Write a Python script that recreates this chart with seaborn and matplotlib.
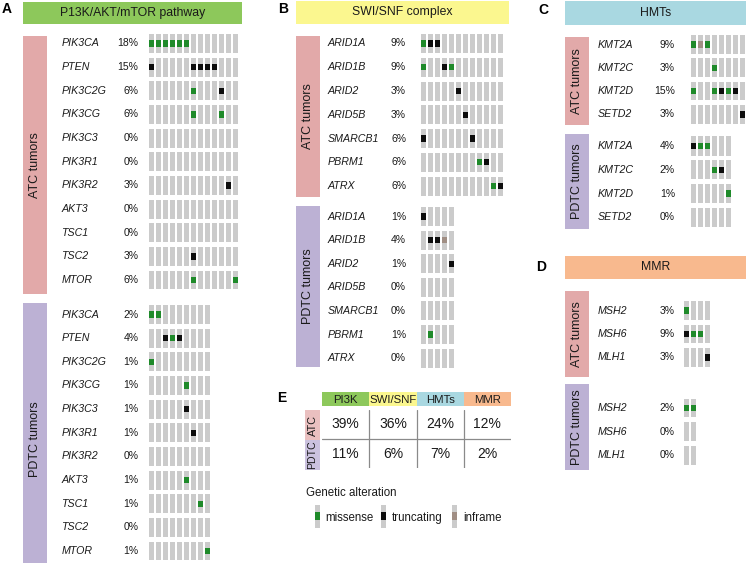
import matplotlib
matplotlib.use("Agg")
import matplotlib.pyplot as plt
import matplotlib.transforms as mtransforms
from matplotlib.colors import ListedColormap
import numpy as np
import pandas as pd
import seaborn as sns

# ---- data ----
# alteration codes: M = missense, T = truncating, I = inframe, . = none
pi3k_genes = ["PIK3CA", "PTEN", "PIK3C2G", "PIK3CG", "PIK3C3", "PIK3R1",
              "PIK3R2", "AKT3", "TSC1", "TSC2", "MTOR"]
pi3k_atc_pct = [18, 15, 6, 6, 0, 0, 3, 0, 0, 3, 6]
pi3k_pdtc_pct = [2, 4, 1, 1, 1, 1, 0, 1, 1, 0, 1]
pi3k_atc_alt = ["MMMMMM.......", "T.....TTTT...", "......M...T..", "......M...M..",
                ".............", ".............", "...........T.", ".............",
                ".............", "......T......", "......M.....M"]
pi3k_pdtc_alt = ["MM.......", "..TMT....", "M........", ".....M...", ".....T...",
                 "......T..", ".........", ".....M...", ".......M.", ".........",
                 "........M"]

swi_genes = ["ARID1A", "ARID1B", "ARID2", "ARID5B", "SMARCB1", "PBRM1", "ATRX"]
swi_atc_pct = [9, 9, 3, 3, 6, 6, 6]
swi_pdtc_pct = [1, 4, 1, 0, 0, 1, 0]
swi_atc_alt = ["MTT.........", "M..TM.......", ".....T......", "......T.....",
               "T......T....", "........MT..", "..........MT"]
swi_pdtc_alt = ["T....", ".TTI.", "....T", ".....", ".....", ".M...", "....."]

hmt_genes = ["KMT2A", "KMT2C", "KMT2D", "SETD2"]
hmt_atc_pct = [9, 3, 15, 3]
hmt_pdtc_pct = [4, 2, 1, 0]
hmt_atc_alt = ["MIM.....", "...M....", "M..MTMT.", ".......T"]
hmt_pdtc_alt = ["TMM...", "...MT.", ".....M", "......"]

mmr_genes = ["MSH2", "MSH6", "MLH1"]
mmr_atc_pct = [3, 9, 3]
mmr_pdtc_pct = [2, 0, 0]
mmr_atc_alt = ["M...", "TMM.", "...T"]
mmr_pdtc_alt = ["MM", "..", ".."]

e_groups = ["PI3K", "SWI/SNF", "HMTs", "MMR"]
e_rows = ["ATC", "PDTC"]
e_atc = [39, 36, 24, 12]
e_pdtc = [11, 6, 7, 2]

legend_kinds = ["M", "T", "I"]
legend_labels = ["missense", "truncating", "inframe"]

# ---- style ----
sns.set_theme(style="white")
plt.rcParams["font.family"] = ["Liberation Sans", "DejaVu Sans"]

TXT = "#1a1a1a"
GREY = "#cbcbcb"
ALT_COLORS = {"M": "#1f8a2a", "T": "#0d0d0d", "I": "#a08e84"}
GREEN_H = "#8dc85b"
YELLOW_H = "#fbf78f"
BLUE_H = "#a9d8e1"
ORANGE_H = "#f8b98e"
PINK = "#e2a9a9"
PURPLE = "#bcb1d4"

W, H = 746, 563
fig = plt.figure(figsize=(W / 100, H / 100), dpi=100)
fig.patch.set_facecolor("white")


def px_axes(x0, y0, x1, y1, color="none"):
    ax = fig.add_axes([x0 / W, 1 - y1 / H, (x1 - x0) / W, (y1 - y0) / H])
    ax.set_facecolor(color)
    ax.set_xticks([])
    ax.set_yticks([])
    for s in ax.spines.values():
        s.set_visible(False)
    return ax


def label_box(x0, y0, x1, y1, color, text, size, rotation=0):
    ax = px_axes(x0, y0, x1, y1, color)
    ax.text(0.5, 0.5, text, transform=ax.transAxes, ha="center", va="center",
            rotation=rotation, fontsize=size, color=TXT)
    return ax


def block(genes, pcts, alts, col0, row0, pitch, name_x, pct_x):
    nrow, ncol = len(genes), len(alts[0])
    left = col0 - 3.5
    top = row0 - pitch / 2
    ax = px_axes(left, top, left + 7 * ncol, top + pitch * nrow)
    ax.set_xlim(-0.5, ncol - 0.5)
    ax.set_ylim(nrow - 0.5, -0.5)
    cols = np.arange(ncol)
    for r, row in enumerate(alts):
        ax.bar(cols, 0.8, bottom=r - 0.4, width=0.72, color=GREY, linewidth=0)
        for kind, color in ALT_COLORS.items():
            xs = [c for c, ch in enumerate(row) if ch == kind]
            if xs:
                ax.bar(xs, 0.27, bottom=r - 0.135, width=0.72, color=color, linewidth=0)
    trans = mtransforms.blended_transform_factory(fig.transFigure, ax.transData)
    for r, (g, p) in enumerate(zip(genes, pcts)):
        ax.text(name_x / W, r, g, transform=trans, ha="left", va="center",
                fontsize=7.7, style="italic", color=TXT)
        ax.text(pct_x / W, r, f"{p}%", transform=trans, ha="right", va="center",
                fontsize=7.5, color=TXT)
    return ax


def letter(x, y, s):
    fig.text(x / W, 1 - y / H, s, ha="center", va="center", fontsize=10,
             fontweight="bold", color="black")


# ---- panel A ----
letter(7, 9, "A")
label_box(23, 2, 242, 24, GREEN_H, "P13K/AKT/mTOR pathway", 8.8)
label_box(23, 36, 47, 294, PINK, "ATC tumors", 9, 90)
label_box(23, 303, 47, 575, PURPLE, "PDTC tumors", 9, 90)
block(pi3k_genes, pi3k_atc_pct, pi3k_atc_alt, 151.5, 43.5, 23.65, 61.5, 138.5)
block(pi3k_genes, pi3k_pdtc_pct, pi3k_pdtc_alt, 151.5, 314.5, 23.65, 61.5, 138.5)

# ---- panel B ----
letter(283, 9, "B")
label_box(296, 1, 509, 24, YELLOW_H, "SWI/SNF complex", 8.8)
label_box(296, 36, 320, 197, PINK, "ATC tumors", 9, 90)
label_box(296, 206, 320, 367, PURPLE, "PDTC tumors", 9, 90)
block(swi_genes, swi_atc_pct, swi_atc_alt, 423.2, 43.5, 23.75, 328, 406)
block(swi_genes, swi_pdtc_pct, swi_pdtc_alt, 423.2, 216.5, 23.6, 328, 406)

# ---- panel C ----
letter(543, 10, "C")
label_box(565, 1, 747, 25, BLUE_H, "HMTs", 8.8)
label_box(565, 37, 589, 125, PINK, "ATC tumors", 9, 90)
label_box(565, 134, 589, 229, PURPLE, "PDTC tumors", 9, 90)
block(hmt_genes, hmt_atc_pct, hmt_atc_alt, 693.7, 44.5, 23.3, 598, 675)
block(hmt_genes, hmt_pdtc_pct, hmt_pdtc_alt, 693.7, 146, 23.8, 598, 675)

# ---- panel D ----
letter(541, 267, "D")
label_box(565, 256, 747, 279, ORANGE_H, "MMR", 8.8)
label_box(565, 291, 589, 377, PINK, "ATC tumors", 9, 90)
label_box(565, 384, 589, 470, PURPLE, "PDTC tumors", 9, 90)
block(mmr_genes, mmr_atc_pct, mmr_atc_alt, 686.7, 310.5, 23.5, 598, 675)
block(mmr_genes, mmr_pdtc_pct, mmr_pdtc_alt, 686.7, 408, 23.7, 598, 675)

# ---- panel E ----
letter(282, 398, "E")
hax = px_axes(322, 392, 511, 406)
hax.bar(np.arange(len(e_groups)), 1, width=1, bottom=0,
        color=[GREEN_H, YELLOW_H, BLUE_H, ORANGE_H], linewidth=0)
hax.set_xlim(-0.5, len(e_groups) - 0.5)
hax.set_ylim(0, 1)
for i, g in enumerate(e_groups):
    hax.text(i, 0.45, g, ha="center", va="center", fontsize=8.2, color=TXT)

label_box(305, 410, 320, 440, "#eac0c0", "ATC", 7.8, 90)
label_box(305, 440, 320, 470, "#cbc2df", "PDTC", 7.6, 90)

df_e = pd.DataFrame([e_atc, e_pdtc], index=e_rows, columns=e_groups)
tax = px_axes(322, 410, 511, 468)
sns.heatmap(df_e, ax=tax, cmap=ListedColormap(["white"]), cbar=False,
            annot=df_e.map(lambda v: f"{v}%"), fmt="",
            annot_kws=dict(size=10, color=TXT),
            xticklabels=False, yticklabels=False)
for s in tax.spines.values():
    s.set_visible(False)
for i in range(1, len(e_groups)):
    tax.axvline(i, color="#8a8a8a", lw=0.9)
tax.axhline(1, color="#8a8a8a", lw=0.9)

# legend
fig.text(306 / W, 1 - 493 / H, "Genetic alteration", ha="left", va="center",
         fontsize=8.3, color=TXT)
lax = px_axes(300, 500, 520, 533)
lax.set_xlim(300, 520)
lax.set_ylim(533, 500)
leg_key_x = [317.5, 383.2, 454.5]
leg_text_x = [325, 392, 463]
for kind, lab, kx, tx in zip(legend_kinds, legend_labels, leg_key_x, leg_text_x):
    lax.bar(kx, 23, bottom=505, width=5, color=GREY, linewidth=0)
    lax.bar(kx, 8, bottom=512, width=5, color=ALT_COLORS[kind], linewidth=0)
    lax.text(tx, 516.5, lab, ha="left", va="center_baseline", fontsize=8.3, color=TXT)

fig.savefig("out.png", dpi=100)
